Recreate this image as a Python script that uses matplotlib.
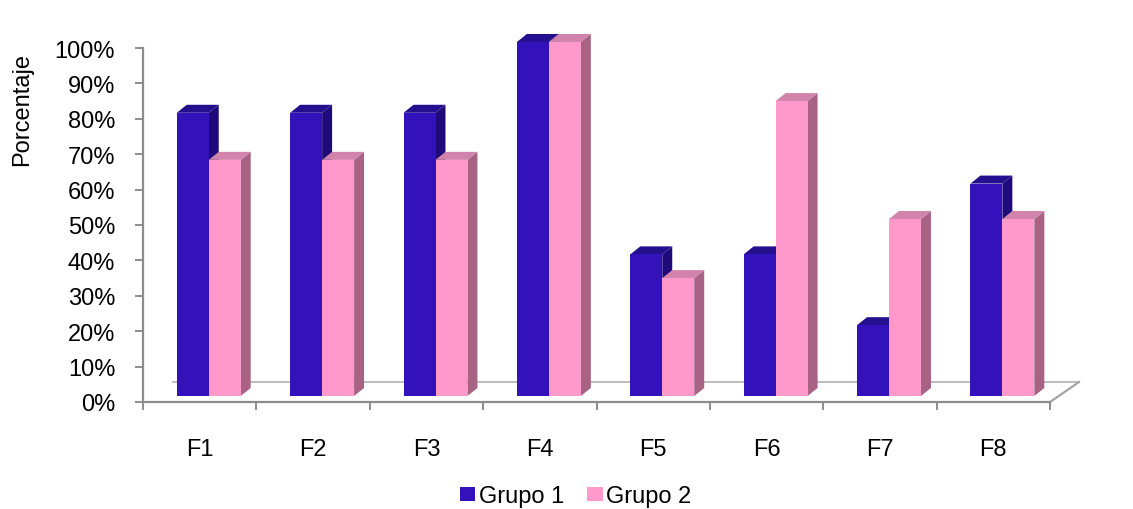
import matplotlib
matplotlib.use("Agg")
import matplotlib.pyplot as plt
from matplotlib.patches import Polygon, Patch
import numpy as np

categories = ["F1", "F2", "F3", "F4", "F5", "F6", "F7", "F8"]
grupo1 = [80, 80, 80, 100, 40, 40, 20, 60]
grupo2 = [66.7, 66.7, 66.7, 100, 33.3, 83.3, 50, 50]
series_names = ["Grupo 1", "Grupo 2"]
yticks = [0, 10, 20, 30, 40, 50, 60, 70, 80, 90, 100]
ytick_labels = ["0%", "10%", "20%", "30%", "40%", "50%", "60%", "70%", "80%", "90%", "100%"]

plt.rcParams['font.family'] = ['Liberation Sans', 'DejaVu Sans']
FS = 17

front_cols = ["#3311BB", "#FF99CC"]
top_cols = ["#24108F", "#D283AC"]
side_cols = ["#1E0A7A", "#A86284"]

fig = plt.figure(figsize=(11.33, 5.10), dpi=100)
ax = fig.add_axes([143/1133, 1-403/510, 907/1133, 354/510])
ax.set_xlim(-0.5, 7.5)
ax.set_ylim(0, 100)

W = 0.282      # bar width (data units)
SHIFT = 0.08   # 3D shift of the pair
DX = 0.088     # depth offset x
DY = 2.26      # depth offset y (percent)
BASE = 1.7     # bars sit slightly behind the front edge

x = np.arange(len(categories))
for s, vals in enumerate([grupo1, grupo2]):
    x0s = x + SHIFT - W + s * W
    z = 2 + 2 * s
    for x0, v in zip(x0s, vals):
        x1 = x0 + W
        b = BASE
        t = BASE + v
        side = Polygon([(x1, b), (x1 + DX, b + DY), (x1 + DX, t + DY), (x1, t)],
                       closed=True, facecolor=side_cols[s], edgecolor="none", zorder=z,
                       clip_on=False)
        top = Polygon([(x0, t), (x0 + DX, t + DY), (x1 + DX, t + DY), (x1, t)],
                      closed=True, facecolor=top_cols[s], edgecolor="none", zorder=z,
                      clip_on=False)
        ax.add_patch(side)
        ax.add_patch(top)
    bars = ax.bar(x0s, vals, width=W, bottom=BASE, align="edge", color=front_cols[s],
                  edgecolor="none", zorder=z + 1)
    for r in bars:
        r.set_clip_on(False)

# floor back edge and right diagonal
floor_y = 5.65
ax.plot([-0.235, 7.756], [floor_y, floor_y], color="#b0b0b0", lw=1.2, zorder=1, clip_on=False)
ax.plot([7.5, 7.756], [0, floor_y], color="#a0a0a0", lw=1.5, zorder=1, clip_on=False)

for sp in ["top", "right"]:
    ax.spines[sp].set_visible(False)
for sp in ["left", "bottom"]:
    ax.spines[sp].set_color("#8c8c8c")
    ax.spines[sp].set_linewidth(1.6)

ax.set_yticks(yticks)
ax.set_yticklabels(ytick_labels, fontsize=FS)
ax.tick_params(axis="y", direction="out", length=6, width=1.4, color="#8c8c8c", pad=14)

ax.set_xticks(x)
ax.set_xticklabels(categories, fontsize=FS)
ax.tick_params(axis="x", which="major", length=0, pad=26)
ax.set_xticks(np.arange(-0.5, 8.0, 1.0), minor=True)
ax.tick_params(axis="x", which="minor", direction="out", length=6, width=1.4, color="#8c8c8c")

fig.text(22/1133, 1-110/510, "Porcentaje", rotation=90, ha="center", va="center", fontsize=FS)

handles = [Patch(facecolor=front_cols[0], edgecolor="none"),
           Patch(facecolor=front_cols[1], edgecolor="none")]
fig.legend(handles, series_names, loc="center", bbox_to_anchor=(0.508, 1-497/510),
           ncol=2, frameon=False, fontsize=FS, handlelength=0.65, handleheight=0.55,
           handletextpad=0.15, columnspacing=1.0, borderpad=0.1)

fig.savefig("out.png", dpi=100, facecolor="white")
